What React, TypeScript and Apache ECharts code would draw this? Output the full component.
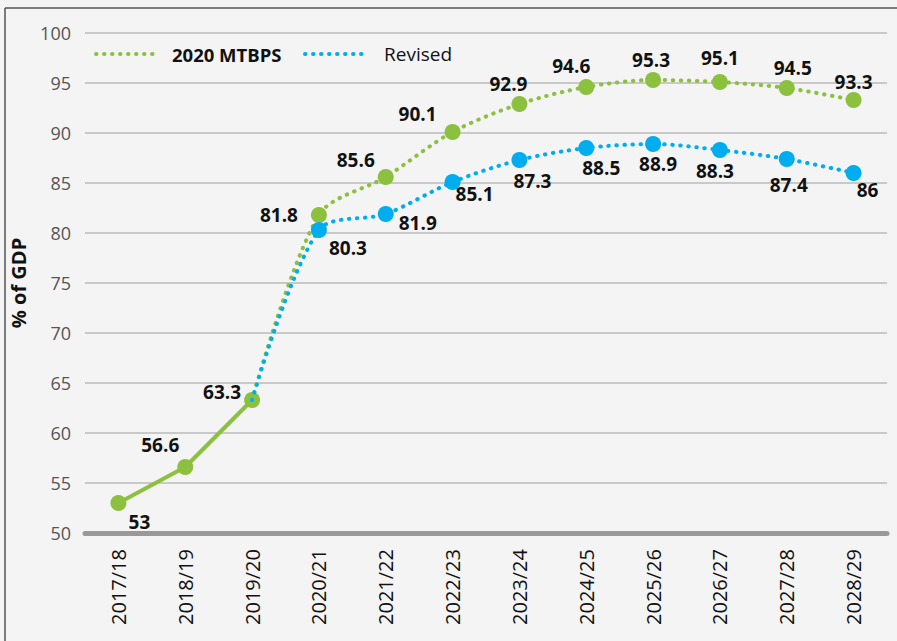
import React, { useEffect, useRef } from "react";
import * as echarts from "echarts";

const categories = ["2017/18", "2018/19", "2019/20", "2020/21", "2021/22", "2022/23", "2023/24", "2024/25", "2025/26", "2026/27", "2027/28", "2028/29"];
const actualValues: (number | null)[] = [53, 56.6, 63.3, null, null, null, null, null, null, null, null, null];
const mtbpsValues: (number | null)[] = [null, null, 63.3, 81.8, 85.6, 90.1, 92.9, 94.6, 95.3, 95.1, 94.5, 93.3];
const revisedValues: (number | null)[] = [null, null, 63.3, 80.3, 81.9, 85.1, 87.3, 88.5, 88.9, 88.3, 87.4, 86];
const yTicks = { min: 50, max: 100, interval: 5 };

// label offsets (style): [dx, dy] from point centre to label centre
const actualOffsets = [[21, 19], [-25, -22], [-30, -8]];
const mtbpsOffsets = [null, null, null, [-40, 0], [-30, -17], [-35, -18], [-11, -20], [-15, -21], [-2, -20], [0, -24], [6, -20], [0, -18]];
const revisedOffsets = [null, null, null, [29, 18], [32, 9], [22, 12], [13, 21], [15, 20], [5, 20], [-5, 21], [2, 26], [14, 17]];

const GREEN = "#8cc03f";
const BLUE = "#00aeef";
const FONT = "'Open Sans', sans-serif";

function buildData(values: (number | null)[], offsets: (number[] | null)[]) {
  return values.map((v, i) => {
    if (v === null) return null;
    const off = offsets[i];
    if (!off) {
      return { value: v, symbol: "none", label: { show: false } };
    }
    return { value: v, label: { show: true, offset: off } };
  });
}

const labelBase = {
  show: true,
  position: "inside",
  align: "center",
  verticalAlign: "middle",
  color: "#111",
  fontFamily: FONT,
  fontWeight: "bold",
  fontSize: 19,
  formatter: (p: any) => String(p.value),
};

export default function App() {
  const ref = useRef<HTMLDivElement>(null);
  useEffect(() => {
    if (!ref.current) return;
    const chart = echarts.init(ref.current, undefined, { renderer: "svg" });
    chart.setOption({
      animation: false,
      backgroundColor: "#f4f4f4",
      grid: { left: 84, right: 10, top: 33, bottom: 108 },
      xAxis: {
        type: "category",
        data: categories,
        boundaryGap: true,
        axisLine: { show: true, lineStyle: { color: "#999", width: 5 } },
        axisTick: { show: false },
        axisLabel: { rotate: 90, margin: 16, color: "#111", fontFamily: FONT, fontSize: 20 },
        splitLine: { show: false },
      },
      yAxis: {
        type: "value",
        min: yTicks.min,
        max: yTicks.max,
        interval: yTicks.interval,
        name: "% of GDP",
        nameLocation: "middle",
        nameRotate: 90,
        nameGap: 57,
        nameTextStyle: { color: "#111", fontFamily: FONT, fontWeight: "bold", fontSize: 20 },
        axisLine: { show: false },
        axisTick: { show: false },
        axisLabel: { margin: 14, color: "#555", fontFamily: FONT, fontSize: 18 },
        splitLine: { lineStyle: { color: "#bbb", width: 1.5 } },
      },
      series: [
        {
          name: "Actual",
          type: "line",
          data: actualValues.map((v, i) => (v === null ? null : { value: v, label: { offset: actualOffsets[i] } })),
          symbol: "circle",
          symbolSize: 16,
          itemStyle: { color: GREEN },
          lineStyle: { color: GREEN, width: 4 },
          label: labelBase,
          z: 3,
        },
        {
          name: "2020 MTBPS",
          type: "line",
          data: buildData(mtbpsValues, mtbpsOffsets),
          smooth: 0.3,
          symbol: "circle",
          symbolSize: 16,
          itemStyle: { color: GREEN },
          lineStyle: { color: GREEN, width: 4, type: [0.5, 7.5], cap: "round" },
          label: labelBase,
          z: 2,
        },
        {
          name: "Revised",
          type: "line",
          data: buildData(revisedValues, revisedOffsets),
          smooth: 0.3,
          symbol: "circle",
          symbolSize: 16,
          itemStyle: { color: BLUE },
          lineStyle: { color: BLUE, width: 4, type: [0.5, 7.5], cap: "round" },
          label: labelBase,
          z: 4,
        },
      ],
      graphic: [
        { type: "line", shape: { x1: 5, y1: 8, x2: 897, y2: 8 }, style: { stroke: "#555", lineWidth: 1.5 } },
        { type: "line", shape: { x1: 5, y1: 8, x2: 5, y2: 641 }, style: { stroke: "#555", lineWidth: 1.5 } },
        { type: "line", shape: { x1: 96, y1: 54, x2: 160, y2: 54 }, style: { stroke: GREEN, lineWidth: 4, lineDash: [0.5, 7.5], lineCap: "round" } },
        { type: "text", x: 172, y: 54, style: { text: "2020 MTBPS", fill: "#111", font: `bold 18.5px ${FONT}`, verticalAlign: "middle", align: "left" } },
        { type: "line", shape: { x1: 305, y1: 54, x2: 369, y2: 54 }, style: { stroke: BLUE, lineWidth: 4, lineDash: [0.5, 7.5], lineCap: "round" } },
        { type: "text", x: 384, y: 54, style: { text: "Revised", fill: "#111", font: `19px ${FONT}`, verticalAlign: "middle", align: "left" } },
      ],
    });
    return () => chart.dispose();
  }, []);
  return <div ref={ref} style={{ position: "fixed", left: 0, top: 0, width: 897, height: 641 }} />;
}
